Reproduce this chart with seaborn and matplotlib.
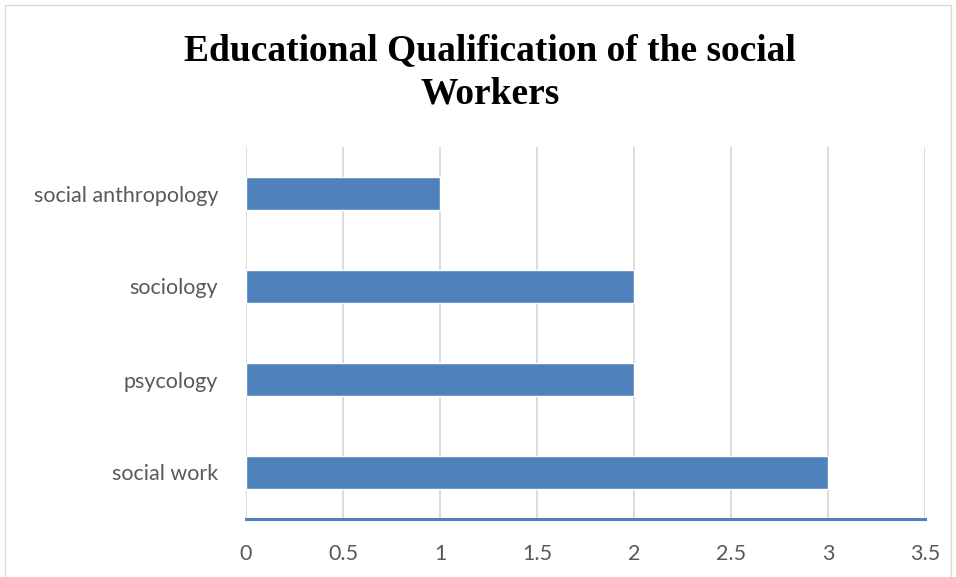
import seaborn as sns
import matplotlib.pyplot as plt
import pandas as pd
from matplotlib.patches import Rectangle

# dados do grafico
categorias = ['social anthropology', 'sociology', 'psycology', 'social work']
valores = [1, 2, 2, 3]
x_ticks = [0, 0.5, 1, 1.5, 2, 2.5, 3, 3.5]

df = pd.DataFrame({'categoria': categorias, 'valor': valores})

sns.set_style('white')
plt.rcParams['font.family'] = ['Lato', 'DejaVu Sans']

fig = plt.figure(figsize=(9.56, 5.77), dpi=100)
ax = fig.add_axes([246 / 956, 1 - 519 / 577, (925 - 246) / 956, (519 - 147) / 577])

sns.barplot(data=df, x='valor', y='categoria', color='#4F81BD', saturation=1,
            width=0.35, ax=ax, zorder=3)

ax.set_xlim(0, 3.5)
ax.set_ylim(3.5, -0.5)
ax.set_xticks(x_ticks)
ax.set_xticklabels(['0', '0.5', '1', '1.5', '2', '2.5', '3', '3.5'])
ax.grid(axis='x', color='#D9D9D9', linewidth=1.3, zorder=0)
ax.grid(axis='y', visible=False)
for s in ['top', 'right', 'left']:
    ax.spines[s].set_visible(False)
ax.spines['bottom'].set_color('#4F81BD')
ax.spines['bottom'].set_linewidth(2.2)
ax.tick_params(axis='both', length=0, labelsize=15.5, colors='#595959')
ax.tick_params(axis='x', pad=18)
ax.tick_params(axis='y', pad=20)
ax.set_xlabel('')
ax.set_ylabel('')

fig.text(490 / 956, 1 - 72 / 577, 'Educational Qualification of the social\nWorkers',
         ha='center', va='center', fontsize=27, fontweight='bold', color='black',
         family='Liberation Serif', linespacing=1.3)

# borda externa
fig.patches.append(Rectangle((5 / 956, -0.05), 946 / 956, 1.05 - 5 / 577,
                             transform=fig.transFigure, fill=False,
                             edgecolor='#D9D9D9', linewidth=1))

fig.savefig('out.png', dpi=100)
